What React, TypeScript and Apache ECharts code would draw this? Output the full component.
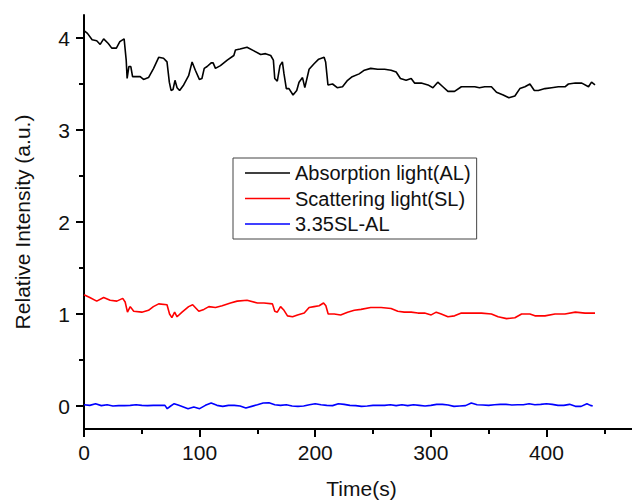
import React, { useEffect, useRef } from "react";
import * as echarts from "echarts";

const FONT = "'Liberation Sans', Arial, sans-serif";

const seriesNames = ["Absorption light(AL)", "Scattering light(SL)", "3.35SL-AL"];

const alTime = [0, 3, 7, 11, 14, 17, 21, 24, 28, 31, 34.7, 36.5, 37.3, 38.8, 40.5, 42, 48.6, 51.5, 55.8, 60.2, 64.6, 68.8, 71.8, 73.8, 75.3, 77, 78.7, 80.5, 82.7, 86.2, 90.5, 93.5, 96.3, 99.8, 102, 104, 106.5, 110, 111.7, 113.7, 118, 123.9, 129.6, 131, 135, 141, 147, 152.8, 157, 161.5, 163.8, 165, 167.2, 169.5, 171.6, 173, 175, 177.3, 180.8, 184, 186, 189, 191, 194.7, 199, 203, 207.7, 209, 211, 215, 219, 223.6, 228, 232, 238, 242.5, 248, 254, 260, 265.6, 270, 273.7, 278.6, 283, 285.9, 291.7, 297.5, 301.8, 306, 310.4, 314.8, 320.5, 326.4, 332, 338, 342, 346.6, 352.4, 356.8, 362.6, 367.5, 372.7, 377, 381.4, 385.7, 389.5, 393, 398.7, 404.5, 410.3, 416, 419, 425, 430.6, 436.4, 439, 442];
const alValue = [4.08, 4.05, 3.98, 3.97, 3.93, 3.99, 3.94, 3.89, 3.89, 3.96, 3.99, 3.76, 3.56, 3.69, 3.69, 3.58, 3.58, 3.55, 3.57, 3.67, 3.79, 3.78, 3.74, 3.52, 3.43, 3.44, 3.54, 3.46, 3.43, 3.49, 3.59, 3.74, 3.65, 3.55, 3.56, 3.67, 3.69, 3.73, 3.73, 3.67, 3.70, 3.76, 3.81, 3.87, 3.88, 3.90, 3.86, 3.82, 3.83, 3.81, 3.76, 3.56, 3.53, 3.70, 3.74, 3.61, 3.45, 3.45, 3.38, 3.43, 3.52, 3.57, 3.46, 3.66, 3.72, 3.77, 3.79, 3.74, 3.49, 3.50, 3.46, 3.47, 3.54, 3.58, 3.61, 3.65, 3.67, 3.66, 3.66, 3.65, 3.63, 3.56, 3.54, 3.56, 3.51, 3.51, 3.49, 3.46, 3.52, 3.47, 3.42, 3.42, 3.47, 3.47, 3.47, 3.46, 3.47, 3.47, 3.41, 3.38, 3.35, 3.37, 3.45, 3.47, 3.50, 3.43, 3.43, 3.45, 3.46, 3.47, 3.47, 3.50, 3.51, 3.51, 3.47, 3.52, 3.49];

const slTime = [0, 5, 11, 17, 22.6, 28.4, 33.5, 35.6, 37.6, 40, 43, 50, 55.8, 60, 64.6, 71.8, 74, 76, 78.4, 80.5, 84.8, 90.5, 94, 99.3, 103.7, 108, 113.7, 119.5, 126.7, 132.5, 141, 150, 155.7, 163, 165, 167.2, 170, 173, 176, 180.4, 184.7, 190.5, 194.7, 199, 203.4, 207.2, 209.2, 211.2, 216.4, 222, 228, 233.8, 239.6, 248, 257, 265.6, 271.4, 277, 283, 288.8, 294.6, 300.3, 304.7, 309, 314.8, 320.5, 326.4, 335, 343.8, 352.4, 358.2, 365.5, 372.7, 378.5, 385.7, 390, 398.7, 407.4, 416, 425, 433.4, 442];
const slValue = [1.21, 1.18, 1.14, 1.18, 1.15, 1.14, 1.17, 1.13, 1.02, 1.08, 1.03, 1.02, 1.04, 1.08, 1.11, 1.10, 1.00, 0.96, 1.02, 0.97, 1.02, 1.08, 1.10, 1.03, 1.05, 1.08, 1.07, 1.09, 1.12, 1.14, 1.15, 1.12, 1.12, 1.11, 1.03, 1.02, 1.08, 1.04, 0.98, 0.97, 0.99, 1.01, 1.07, 1.08, 1.09, 1.12, 1.09, 1.00, 1.00, 0.99, 1.02, 1.04, 1.05, 1.07, 1.07, 1.06, 1.03, 1.02, 1.02, 1.01, 1.01, 0.99, 1.02, 1.00, 0.97, 0.98, 1.01, 1.01, 1.01, 1.00, 0.97, 0.95, 0.96, 1.00, 1.00, 0.98, 0.98, 1.00, 1.00, 1.02, 1.01, 1.01];

const diffTime = [0, 5, 10, 15, 20, 25, 30, 35, 40, 45, 50, 55, 60, 65, 70, 72, 75, 78, 82, 86, 90, 95, 100, 105, 110, 115, 120, 125, 130, 135, 140, 145, 150, 155, 160, 165, 170, 175, 180, 185, 190, 195, 200, 205, 210, 215, 220, 225, 230, 235, 240, 245, 250, 255, 260, 265, 270, 275, 280, 285, 290, 295, 300, 305, 310, 315, 320, 325, 330, 335, 340, 345, 350, 355, 360, 365, 370, 375, 380, 385, 390, 395, 400, 405, 410, 415, 420, 425, 430, 435, 438, 440];
const diffValue = [0.014, 0.007, 0.025, 0.004, 0.014, 0.0, 0.004, 0.004, 0.007, 0.014, 0.007, 0.004, 0.007, 0.007, 0.007, -0.029, 0.0, 0.025, 0.007, -0.011, -0.029, -0.011, -0.029, 0.007, 0.033, 0.007, -0.004, 0.007, 0.007, 0.0, -0.022, -0.004, 0.014, 0.033, 0.036, 0.014, 0.007, 0.014, 0.0, -0.004, 0.0, 0.014, 0.025, 0.014, 0.007, 0.004, 0.025, 0.018, 0.007, 0.004, -0.004, 0.0, 0.007, 0.007, 0.007, 0.014, 0.004, 0.014, 0.004, 0.014, 0.007, 0.0, 0.007, 0.018, 0.018, 0.011, -0.004, 0.0, 0.004, 0.033, 0.014, 0.011, 0.007, 0.014, 0.018, 0.018, 0.011, 0.014, 0.014, 0.025, 0.014, 0.018, 0.025, 0.018, 0.007, 0.007, 0.018, -0.004, -0.004, 0.025, 0.007, 0.0];

const xMajorTicks = [0, 100, 200, 300, 400];
const xMinorTicks = [50, 150, 250, 350, 450];
const yMajorTicks = [0, 1, 2, 3, 4];
const yMinorTicks = [0.5, 1.5, 2.5, 3.5];

const zip = (t: number[], v: number[]) => t.map((x, i) => [x, v[i]]);

export default function App() {
  const ref = useRef<HTMLDivElement>(null);
  useEffect(() => {
    if (!ref.current) return;
    const chart = echarts.init(ref.current, null, { renderer: "svg" });
    const X_MIN = 0, X_MAX = 474, Y_MIN = -0.25, Y_MAX = 4.25;
    const axisLine = { show: true, onZero: false, lineStyle: { color: "#000", width: 2 } };
    chart.setOption({
      animation: false,
      backgroundColor: "#fff",
      textStyle: { fontFamily: FONT },
      grid: { left: 84, right: 0, top: 15, bottom: 72, containLabel: false, outerBoundsMode: "none" },
      legend: {
        orient: "vertical",
        left: 233,
        top: 158,
        padding: [5, 6, 5, 12],
        icon: "rect",
        itemWidth: 45,
        itemHeight: 1.6,
        itemGap: 5.5,
        borderColor: "#444",
        borderWidth: 1,
        textStyle: { fontSize: 20, lineHeight: 19.5, color: "#111", fontFamily: FONT },
        data: seriesNames,
      },
      xAxis: [
        {
          type: "value",
          position: "bottom",
          min: X_MIN,
          max: X_MAX,
          name: "Time(s)",
          nameLocation: "middle",
          nameGap: 49,
          nameTextStyle: { fontSize: 21, lineHeight: 21, color: "#111", fontFamily: FONT, padding: [0, 0, 0, 7] },
          axisLine,
          axisTick: { show: true, inside: false, length: 8, customValues: xMajorTicks, lineStyle: { color: "#000", width: 2 } },
          axisLabel: { show: true, margin: 13, fontSize: 21, color: "#111", fontFamily: FONT, customValues: xMajorTicks },
          splitLine: { show: false },
        },
        {
          type: "value",
          position: "bottom",
          min: X_MIN,
          max: X_MAX,
          axisLine: { show: false, onZero: false },
          axisTick: { show: true, inside: false, length: 5, customValues: xMinorTicks, lineStyle: { color: "#000", width: 2 } },
          axisLabel: { show: false },
          splitLine: { show: false },
        },
      ],
      yAxis: [
        {
          type: "value",
          position: "left",
          min: Y_MIN,
          max: Y_MAX,
          name: "Relative Intensity (a.u.)",
          nameLocation: "middle",
          nameGap: 51,
          nameTextStyle: { fontSize: 21, color: "#111", fontFamily: FONT },
          axisLine,
          axisTick: { show: true, inside: false, length: 8, customValues: yMajorTicks, lineStyle: { color: "#000", width: 2 } },
          axisLabel: { show: true, margin: 14, fontSize: 21, color: "#111", fontFamily: FONT, customValues: yMajorTicks },
          splitLine: { show: false },
        },
        {
          type: "value",
          position: "left",
          min: Y_MIN,
          max: Y_MAX,
          axisLine: { show: false, onZero: false },
          axisTick: { show: true, inside: false, length: 5, customValues: yMinorTicks, lineStyle: { color: "#000", width: 2 } },
          axisLabel: { show: false },
          splitLine: { show: false },
        },
      ],
      series: [
        {
          name: seriesNames[0],
          type: "line",
          symbol: "none",
          data: zip(alTime, alValue),
          lineStyle: { color: "#000", width: 1.6 },
          itemStyle: { color: "#000" },
        },
        {
          name: seriesNames[1],
          type: "line",
          symbol: "none",
          data: zip(slTime, slValue),
          lineStyle: { color: "#ff0000", width: 1.6 },
          itemStyle: { color: "#ff0000" },
        },
        {
          name: seriesNames[2],
          type: "line",
          symbol: "none",
          data: zip(diffTime, diffValue),
          lineStyle: { color: "#0000ff", width: 1.6 },
          itemStyle: { color: "#0000ff" },
        },
      ],
    });
    return () => chart.dispose();
  }, []);
  return (
    <div
      ref={ref}
      style={{ position: "absolute", left: 0, top: 0, width: 632, height: 501, background: "#fff" }}
    />
  );
}
